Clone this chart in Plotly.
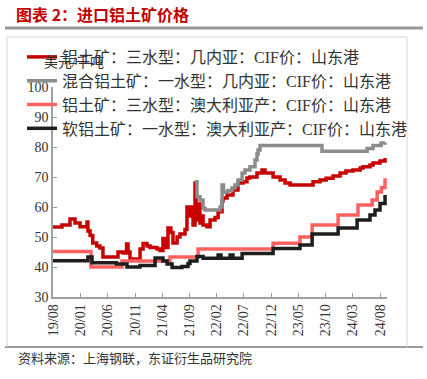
import plotly.graph_objects as go

W, H = 427, 379
L, R, T, B = 53, 387, 87, 297  # plot-area pixel box

# ---------------- data ----------------
series_names = [
    "铝土矿：三水型：几内亚：CIF价：山东港",
    "混合铝土矿：一水型：几内亚：CIF价：山东港",
    "铝土矿：三水型：澳大利亚产：CIF价：山东港",
    "软铝土矿：一水型：澳大利亚产：CIF价：山东港",
]

guinea_tri_dates = [
    "2019-08-01", "2019-09-20", "2019-11-04", "2019-12-02", "2019-12-30", "2020-02-07",
    "2020-02-12", "2020-02-24", "2020-03-10", "2020-04-01", "2020-04-19", "2020-05-06",
    "2020-07-29", "2020-08-26", "2020-09-15", "2020-09-23", "2020-10-04", "2020-11-29",
    "2020-12-16", "2021-01-07", "2021-01-24", "2021-03-04", "2021-03-21", "2021-04-06",
    "2021-04-20", "2021-05-04", "2021-05-20", "2021-06-01", "2021-06-24", "2021-07-10",
    "2021-08-07", "2021-08-18", "2021-09-04", "2021-09-10", "2021-09-21", "2021-10-02",
    "2021-10-08", "2021-10-20", "2021-10-30", "2021-11-10", "2021-11-16", "2021-12-08",
    "2021-12-25", "2022-01-22", "2022-02-08", "2022-03-02", "2022-03-07", "2022-03-30",
    "2022-05-02", "2022-05-30", "2022-06-27", "2022-07-19", "2022-08-05", "2022-09-13",
    "2022-10-11", "2022-10-28", "2022-12-12", "2023-01-20", "2023-02-17", "2023-03-17",
    "2023-07-23", "2023-08-31", "2023-10-04", "2023-11-12", "2023-12-21", "2024-01-23",
    "2024-03-02", "2024-04-11", "2024-04-27", "2024-06-05", "2024-06-22", "2024-07-31",
    "2024-08-28",
]
guinea_tri_values = [
    53.3, 54.0, 56.0, 54.7, 53.4, 55.0,
    52.0, 50.5, 48.0, 47.0, 46.3, 43.3,
    45.0, 44.7, 47.7, 45.0, 42.7, 46.0,
    47.8, 47.0, 46.5, 46.0, 45.5, 49.5,
    46.5, 53.0, 51.5, 48.0, 50.0, 51.0,
    52.5, 60.0, 57.0, 60.0, 54.0, 68.0,
    55.7, 61.0, 54.7, 57.0, 54.0, 53.4,
    55.7, 56.5, 58.4, 62.0, 63.0, 64.0,
    65.7, 68.0, 68.4, 69.7, 70.0, 71.3,
    72.3, 71.3, 70.0, 69.0, 68.0, 67.3,
    68.4, 69.0, 69.6, 70.3, 71.3, 72.0,
    72.3, 73.0, 73.4, 74.0, 74.7, 75.3,
    76.3,
]

guinea_mono_dates = [
    "2021-10-02", "2021-10-13", "2021-10-30", "2021-11-16", "2021-11-27", "2022-02-19",
    "2022-03-02", "2022-03-10", "2022-04-04", "2022-04-27", "2022-05-13", "2022-05-30",
    "2022-06-22", "2022-07-08", "2022-08-05", "2022-09-02", "2022-09-13", "2022-09-19",
    "2022-09-30", "2023-09-11", "2024-05-20", "2024-06-22", "2024-08-06", "2024-08-28",
]
guinea_mono_values = [
    68.4, 63.4, 62.3, 59.6, 59.0, 60.0,
    67.3, 65.0, 65.5, 66.3, 67.3, 69.0,
    71.3, 72.3, 73.4, 75.7, 77.7, 79.0,
    80.5, 78.6, 79.5, 80.5, 81.3, 81.5,
]

aus_tri_dates = [
    "2019-08-01", "2020-02-29", "2020-08-20", "2021-05-15", "2021-10-19", "2022-12-12",
    "2023-05-11", "2023-07-18", "2023-12-10", "2024-03-30", "2024-06-17", "2024-07-15",
    "2024-08-08", "2024-08-28",
]
aus_tri_values = [
    45.2, 40.0, 42.0, 43.3, 46.0, 47.9,
    50.0, 54.0, 57.3, 60.7, 62.3, 65.0,
    66.5, 69.6,
]

aus_mono_dates = [
    "2019-08-01", "2020-02-12", "2020-03-06", "2020-07-20", "2020-09-17", "2020-11-29",
    "2021-02-21", "2021-04-06", "2021-04-29", "2021-05-27", "2021-07-21", "2021-08-24",
    "2021-09-04", "2021-10-13", "2021-11-16", "2022-02-08", "2022-02-24", "2022-04-16",
    "2022-05-02", "2022-06-22", "2022-12-12", "2023-05-11", "2023-07-18", "2023-12-10",
    "2024-03-25", "2024-06-05", "2024-07-03", "2024-07-31", "2024-08-28",
]
aus_mono_values = [
    42.1, 43.3, 41.4, 41.0, 40.0, 40.5,
    43.0, 42.0, 41.0, 39.8, 40.2, 41.2,
    42.0, 43.5, 42.9, 44.0, 42.9, 44.0,
    42.9, 44.5, 46.2, 47.3, 51.0, 53.0,
    55.7, 57.3, 59.0, 61.2, 64.0,
]

tick_dates = ["2019-08-01", "2020-01-01", "2020-06-01", "2020-11-01", "2021-04-01",
              "2021-09-01", "2022-02-01", "2022-07-01", "2022-12-01", "2023-05-01",
              "2023-10-01", "2024-03-01", "2024-08-01"]
tick_labels = ["19/08", "20/01", "20/06", "20/11", "21/04", "21/09", "22/02",
               "22/07", "22/12", "23/05", "23/10", "24/03", "24/08"]
y_ticks = [30, 40, 50, 60, 70, 80, 90, 100]

# ---------------- styling ----------------
colors = ["#C80000", "#8C8C8C", "#FF6161", "#1E1E1E"]
SERIF = "Liberation Serif, Noto Sans CJK SC, serif"
CJK = "Noto Sans CJK SC, sans-serif"


def px(x):
    return (x - L) / (R - L)


def py(y):
    return (B - y) / (B - T)


fig = go.Figure()
all_series = [
    (guinea_tri_dates, guinea_tri_values),
    (guinea_mono_dates, guinea_mono_values),
    (aus_tri_dates, aus_tri_values),
    (aus_mono_dates, aus_mono_values),
]
for name, (d, v), c in zip(series_names, all_series, colors):
    fig.add_trace(go.Scatter(x=d, y=v, name=name, mode="lines",
                             line=dict(color=c, width=3.5, shape="hv")))

fig.update_layout(
    width=W, height=H,
    margin=dict(l=L, r=W - R, t=T, b=H - B),
    paper_bgcolor="white", plot_bgcolor="white",
    font=dict(family=SERIF, size=14, color="#333333"),
    showlegend=True,
    legend=dict(x=px(22), y=py(40), xanchor="left", yanchor="top",
                bgcolor="rgba(0,0,0,0)", font=dict(family=SERIF, size=16, color="#333333"),
                tracegroupgap=0, itemwidth=30),
    xaxis=dict(type="date", range=["2019-08-01", "2024-09-08"],
               tickmode="array", tickvals=tick_dates, ticktext=tick_labels,
               tickangle=-90, ticks="inside", ticklen=4, tickcolor="#A0A0A0",
               showline=True, linecolor="#A0A0A0", linewidth=1.5,
               showgrid=False, zeroline=False,
               tickfont=dict(family=SERIF, size=14, color="#333333")),
    yaxis=dict(range=[30, 100], tickmode="array", tickvals=y_ticks,
               ticks="inside", ticklen=4, tickcolor="#A0A0A0",
               showline=True, linecolor="#A0A0A0", linewidth=1.5,
               showgrid=False, zeroline=False,
               tickfont=dict(family=SERIF, size=14, color="#333333")),
)

# title, unit, source
fig.add_annotation(x=px(14), y=py(14), xref="paper", yref="paper", xanchor="left", yanchor="middle",
                   text="<b>图表 2：进口铝土矿价格</b>", showarrow=False,
                   font=dict(family=CJK, size=16, color="#C00000"))
fig.add_annotation(x=px(42), y=py(63), xref="paper", yref="paper", xanchor="left", yanchor="middle",
                   text="美元/千吨", showarrow=False,
                   font=dict(family=SERIF, size=14, color="#333333"))
fig.add_annotation(x=px(16), y=py(358), xref="paper", yref="paper", xanchor="left", yanchor="middle",
                   text="资料来源：上海钢联，东证衍生品研究院", showarrow=False,
                   font=dict(family=SERIF, size=13, color="#333333"))

# frame lines
shape_line = dict(xref="paper", yref="paper")
fig.add_shape(type="line", x0=px(5), x1=px(423), y0=py(28), y1=py(28),
              line=dict(color="#999999", width=3), **shape_line)
fig.add_shape(type="line", x0=px(5), x1=px(423), y0=py(347), y1=py(347),
              line=dict(color="#999999", width=2), **shape_line)
fig.add_shape(type="line", x0=px(7), x1=px(407), y0=py(37), y1=py(37),
              line=dict(color="#D8D8D8", width=1), **shape_line)
fig.add_shape(type="line", x0=px(7), x1=px(7), y0=py(37), y1=py(347),
              line=dict(color="#D8D8D8", width=1), **shape_line)
fig.add_shape(type="line", x0=px(407), x1=px(407), y0=py(37), y1=py(347),
              line=dict(color="#D8D8D8", width=1), **shape_line)

fig.write_html("out.html",
               config={"displayModeBar": False},
               post_script="document.body.style.margin='0';document.body.style.overflow='hidden';")
